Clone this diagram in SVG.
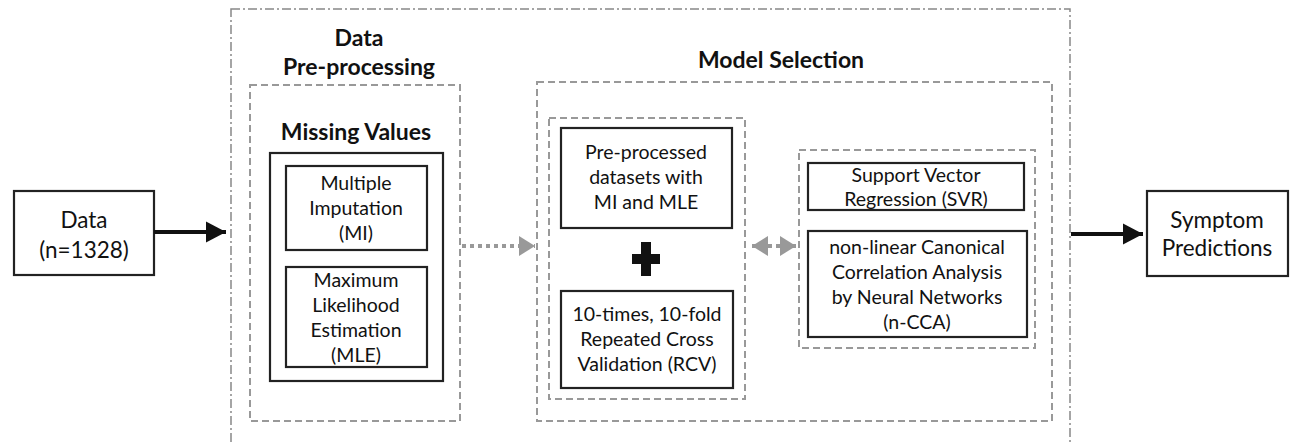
<svg xmlns="http://www.w3.org/2000/svg" width="1291" height="442" viewBox="0 0 1291 442">
<style>
text{font-family:Lato,"Open Sans","Liberation Sans",sans-serif;font-size:19.5px;fill:#111;text-anchor:middle}
.b{font-weight:bold;font-size:23px}
.l{font-size:22.5px}
.box{fill:#fff;stroke:#222;stroke-width:2.2}
.dash{fill:none;stroke:#999;stroke-width:2;stroke-dasharray:7 4}
.frame{fill:none;stroke:#888;stroke-width:1.5;stroke-dasharray:9 3 2 3}
.solid{stroke:#111;stroke-width:4;fill:none}
.dot{stroke:#999;stroke-width:4;stroke-dasharray:4 4;fill:none}
</style>
<defs>
<marker id="ab" markerWidth="6" markerHeight="6" refX="5" refY="3" orient="auto" markerUnits="strokeWidth"><path d="M0,0.4 L5,3 L0,5.6 z" fill="#111"/></marker>
<marker id="ag" markerWidth="5" markerHeight="5" refX="4" refY="2.5" orient="auto-start-reverse" markerUnits="strokeWidth"><path d="M0,0 L4,2.5 L0,5 z" fill="#999"/></marker>
</defs>
<rect class="frame" x="231" y="9" width="839" height="440"/>
<g id="data">
<rect class="box" x="14" y="191" width="140" height="84"/>
<text class="l" x="84" y="228">Data</text>
<text class="l" x="84" y="258">(n=1328)</text>
</g>
<g id="preprocessing">
<text class="b" x="359" y="46">Data</text>
<text class="b" x="359" y="75">Pre-processing</text>
<rect class="dash" x="250" y="85" width="210" height="336"/>
<text class="b" x="356" y="140">Missing Values</text>
<rect class="box" x="270" y="153" width="173" height="228"/>
</g>
<g id="mi">
<rect class="box" x="286" y="166" width="141" height="84"/>
<text x="356" y="190">Multiple</text>
<text x="356" y="215">Imputation</text>
<text x="356" y="240">(MI)</text>
</g>
<g id="mle">
<rect class="box" x="286" y="267" width="141" height="100"/>
<text x="356" y="287">Maximum</text>
<text x="356" y="312">Likelihood</text>
<text x="356" y="337">Estimation</text>
<text x="356" y="362">(MLE)</text>
</g>
<g id="model-selection">
<text class="b" x="781" y="68">Model Selection</text>
<rect class="dash" x="537" y="82" width="515" height="339"/>
<rect class="dash" x="549" y="118" width="196" height="281"/>
<rect class="dash" x="799" y="150" width="236" height="198"/>
</g>
<g id="preprocessed">
<rect class="box" x="561" y="128" width="171" height="100"/>
<text x="646" y="159">Pre-processed</text>
<text x="646" y="184">datasets with</text>
<text x="646" y="209">MI and MLE</text>
</g>
<g id="plus">
<rect x="641" y="242" width="10" height="34" fill="#111"/>
<rect x="632" y="254" width="28" height="10" fill="#111"/>
</g>
<g id="rcv">
<rect class="box" x="561" y="291" width="172" height="97"/>
<text x="647" y="321">10-times,  10-fold</text>
<text x="647" y="346">Repeated Cross</text>
<text x="647" y="371">Validation (RCV)</text>
</g>
<g id="svr">
<rect class="box" x="808" y="163" width="216" height="47"/>
<text x="916" y="182">Support Vector</text>
<text x="916" y="206">Regression (SVR)</text>
</g>
<g id="ncca">
<rect class="box" x="808" y="231" width="219" height="106"/>
<text x="917" y="254">non-linear Canonical</text>
<text x="917" y="279">Correlation Analysis</text>
<text x="917" y="304">by Neural Networks</text>
<text x="917" y="329">(n-CCA)</text>
</g>
<g id="symptom">
<rect class="box" x="1147" y="191" width="141" height="85"/>
<text class="l" x="1217" y="228">Symptom</text>
<text class="l" x="1217" y="256">Predictions</text>
</g>
<g id="connectors">
<line class="solid" x1="154" y1="232" x2="226" y2="232" marker-end="url(#ab)"/>
<line class="dot" x1="462" y1="246" x2="535" y2="246" marker-end="url(#ag)"/>
<line class="dot" x1="752" y1="246" x2="796" y2="246" marker-start="url(#ag)" marker-end="url(#ag)"/>
<line class="solid" x1="1071" y1="234" x2="1143" y2="234" marker-end="url(#ab)"/>
</g>
</svg>
